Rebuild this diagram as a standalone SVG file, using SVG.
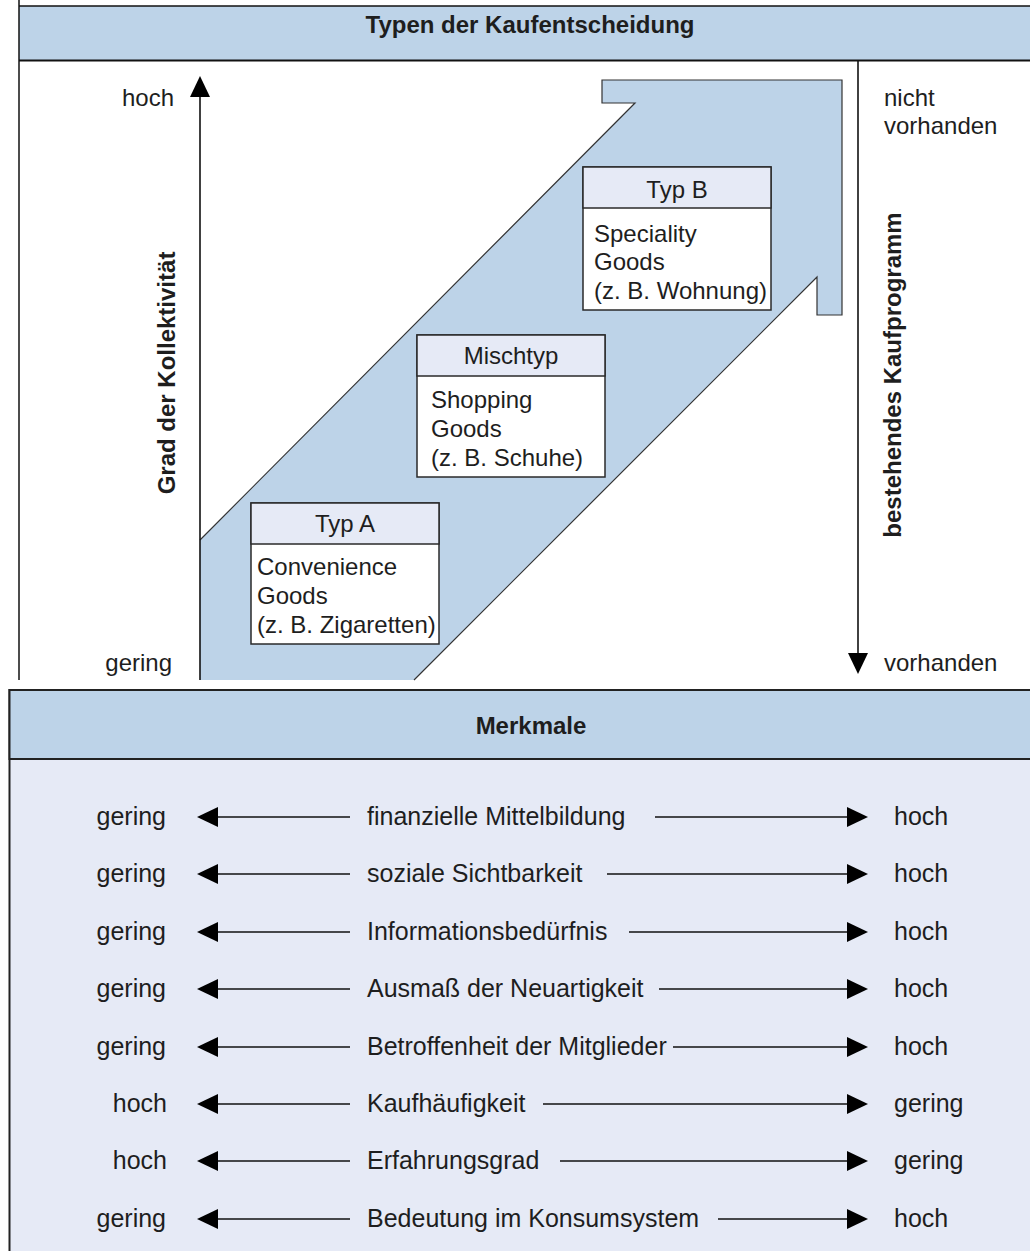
<svg xmlns="http://www.w3.org/2000/svg" width="1030" height="1251" viewBox="0 0 1030 1251">
<style>
text{font-family:"Liberation Sans",Arial,sans-serif;fill:#1e1e1e;font-size:24px}
.r text{font-size:25px}
.b{font-weight:bold}
.c{text-anchor:middle}
.e{text-anchor:end}
.ln{stroke:#111;stroke-width:1.6;fill:none}
.box{fill:#fff;stroke:#2a2a2a;stroke-width:1.5}
.bh{fill:#e6eaf6;stroke:#2a2a2a;stroke-width:1.5}
</style>
<defs>
<marker id="ah" viewBox="0 0 21 20" refX="0" refY="10" markerWidth="21" markerHeight="20" markerUnits="userSpaceOnUse" orient="auto">
<path d="M0,0 L21,10 L0,20 Z" fill="#000"/>
</marker>
</defs>
<rect width="1030" height="1251" fill="#fff"/>
<g id="top-frame">
<rect x="19" y="6" width="1020" height="54" fill="#bdd3e8"/>
<line x1="19" y1="6" x2="1030" y2="6" stroke="#111" stroke-width="1.5"/>
<line x1="19" y1="60.5" x2="1030" y2="60.5" stroke="#111" stroke-width="2"/>
<line x1="19" y1="0" x2="19" y2="680" stroke="#111" stroke-width="1.5"/>
<text class="b c" x="530" y="33">Typen der Kaufentscheidung</text>
</g>
<g id="band">
<polygon points="602,80 842,80 842,315 817,315 817,277 414,680 200,680 200,540 635,103 602,103" fill="#bdd3e8"/>
<polyline points="414,680 817,277 817,315 842,315 842,80 602,80 602,103 635,103 200,540" fill="none" stroke="#333" stroke-width="1.2"/>
</g>
<g id="merkmale">
<rect x="9.5" y="690" width="1030" height="570" fill="#e6eaf6" stroke="#222" stroke-width="2"/>
<rect x="9.5" y="690" width="1030" height="69" fill="#bdd3e8" stroke="#222" stroke-width="2"/>
<text class="b c" x="531" y="734">Merkmale</text>
</g>
<g id="connectors">
<line class="ln" x1="200" y1="680" x2="200" y2="97" marker-end="url(#ah)"/>
<line class="ln" x1="858" y1="61" x2="858" y2="653" marker-end="url(#ah)"/>
<line class="ln" x1="350" y1="817" x2="218" y2="817" marker-end="url(#ah)"/>
<line class="ln" x1="655" y1="817" x2="847" y2="817" marker-end="url(#ah)"/>
<line class="ln" x1="350" y1="874" x2="218" y2="874" marker-end="url(#ah)"/>
<line class="ln" x1="607" y1="874" x2="847" y2="874" marker-end="url(#ah)"/>
<line class="ln" x1="350" y1="932" x2="218" y2="932" marker-end="url(#ah)"/>
<line class="ln" x1="629" y1="932" x2="847" y2="932" marker-end="url(#ah)"/>
<line class="ln" x1="350" y1="989" x2="218" y2="989" marker-end="url(#ah)"/>
<line class="ln" x1="659" y1="989" x2="847" y2="989" marker-end="url(#ah)"/>
<line class="ln" x1="350" y1="1047" x2="218" y2="1047" marker-end="url(#ah)"/>
<line class="ln" x1="673" y1="1047" x2="847" y2="1047" marker-end="url(#ah)"/>
<line class="ln" x1="350" y1="1104" x2="218" y2="1104" marker-end="url(#ah)"/>
<line class="ln" x1="543" y1="1104" x2="847" y2="1104" marker-end="url(#ah)"/>
<line class="ln" x1="350" y1="1161" x2="218" y2="1161" marker-end="url(#ah)"/>
<line class="ln" x1="560" y1="1161" x2="847" y2="1161" marker-end="url(#ah)"/>
<line class="ln" x1="350" y1="1219" x2="218" y2="1219" marker-end="url(#ah)"/>
<line class="ln" x1="718" y1="1219" x2="847" y2="1219" marker-end="url(#ah)"/>
</g>
<g id="axis-left">
<text class="e" x="174" y="106">hoch</text>
<text class="e" x="172" y="671">gering</text>
<text class="b c" transform="translate(175,373) rotate(-90)">Grad der Kollektivität</text>
</g>
<g id="axis-right">
<text x="884" y="106">nicht</text>
<text x="884" y="134">vorhanden</text>
<text x="884" y="671">vorhanden</text>
<text class="b c" transform="translate(901,375) rotate(-90)">bestehendes Kaufprogramm</text>
</g>
<g id="typ-a">
<rect class="box" x="251" y="503" width="188" height="141"/>
<rect class="bh" x="251" y="503" width="188" height="41"/>
<text class="c" x="345" y="532">Typ A</text>
<text x="257" y="575">Convenience</text>
<text x="257" y="604">Goods</text>
<text x="257" y="633">(z. B. Zigaretten)</text>
</g>
<g id="mischtyp">
<rect class="box" x="417" y="335" width="188" height="142"/>
<rect class="bh" x="417" y="335" width="188" height="41"/>
<text class="c" x="511" y="364">Mischtyp</text>
<text x="431" y="408">Shopping</text>
<text x="431" y="437">Goods</text>
<text x="431" y="466">(z. B. Schuhe)</text>
</g>
<g id="typ-b">
<rect class="box" x="583" y="167" width="188" height="143"/>
<rect class="bh" x="583" y="167" width="188" height="41"/>
<text class="c" x="677" y="198">Typ B</text>
<text x="594" y="242">Speciality</text>
<text x="594" y="270">Goods</text>
<text x="594" y="299">(z. B. Wohnung)</text>
</g>
<g id="rows" class="r">
<text class="e" x="166" y="825">gering</text><text x="367" y="825">finanzielle Mittelbildung</text><text x="894" y="825">hoch</text>
<text class="e" x="166" y="882">gering</text><text x="367" y="882">soziale Sichtbarkeit</text><text x="894" y="882">hoch</text>
<text class="e" x="166" y="940">gering</text><text x="367" y="940">Informationsbedürfnis</text><text x="894" y="940">hoch</text>
<text class="e" x="166" y="997">gering</text><text x="367" y="997">Ausmaß der Neuartigkeit</text><text x="894" y="997">hoch</text>
<text class="e" x="166" y="1055">gering</text><text x="367" y="1055">Betroffenheit der Mitglieder</text><text x="894" y="1055">hoch</text>
<text class="e" x="167" y="1112">hoch</text><text x="367" y="1112">Kaufhäufigkeit</text><text x="894" y="1112">gering</text>
<text class="e" x="167" y="1169">hoch</text><text x="367" y="1169">Erfahrungsgrad</text><text x="894" y="1169">gering</text>
<text class="e" x="166" y="1227">gering</text><text x="367" y="1227">Bedeutung im Konsumsystem</text><text x="894" y="1227">hoch</text>
</g>
</svg>
